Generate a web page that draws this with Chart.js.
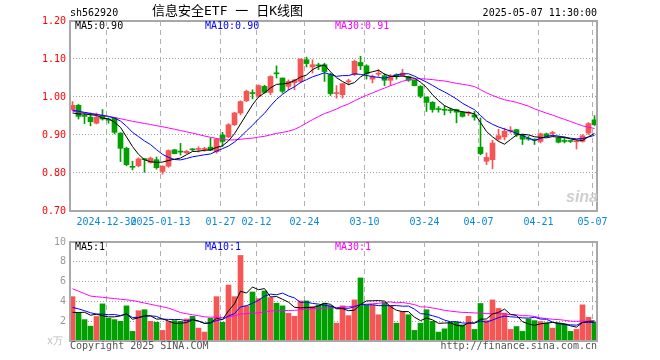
<!DOCTYPE html>
<html>
<head>
<meta charset="utf-8">
<script src="https://cdn.jsdelivr.net/npm/chart.js@4.4.1/dist/chart.umd.min.js"></script>
<style>
  body { margin: 0; background: #fff; width: 660px; height: 360px; overflow: hidden; position: relative;
         font-family: "DejaVu Sans Mono", monospace; font-size: 10px; }
  .t { position: absolute; white-space: nowrap; line-height: 12px; }
  #kline { position: absolute; left: 0; top: 0; }
  #vol { position: absolute; left: 0; top: 232px; }
</style>
</head>
<body>
<canvas id="kline" width="660" height="232"></canvas>
<canvas id="vol" width="660" height="128"></canvas>

<div class="t" style="left:70px;top:7px">sh562920</div>
<div class="t" style="left:152px;top:3px;font-size:13px;line-height:16px;font-family:'DejaVu Sans Mono','Noto Sans CJK SC'">信息安全ETF 一 日K线图</div>
<div class="t" style="right:63px;top:7px">2025-05-07 11:30:00</div>
<div class="t" style="left:75px;top:20px;color:#000">MA5:0.90</div>
<div class="t" style="left:205px;top:20px;color:#0000ff">MA10:0.90</div>
<div class="t" style="left:335px;top:20px;color:#ff00ff">MA30:0.91</div>
<div class="t" style="left:566px;top:188px;font:italic bold 16px 'Liberation Sans';color:#cfcfcf">sina</div>
<div class="t" style="left:75px;top:241px;color:#000">MA5:1</div>
<div class="t" style="left:205px;top:241px;color:#0000ff">MA10:1</div>
<div class="t" style="left:335px;top:241px;color:#ff00ff">MA30:1</div>
<div class="t" style="right:597px;top:335px;color:#bbb">x万</div>
<div class="t" style="left:70px;top:340px;color:#555">Copyright 2025 SINA.COM</div>
<div class="t" style="right:63px;top:340px;color:#555">http://finance.sina.com.cn</div>

<script>
  'use strict';

  // date ticks (trading-day index -> label)
  const tickIdx = [6, 15, 25, 31, 39, 49, 59, 68, 78, 87];
  const tickLabels = ['2024-12-30', '2025-01-13', '01-27', '02-12', '02-24', '03-10', '03-24', '04-07', '04-21', '05-07'];
  const priceTicks = [0.7, 0.8, 0.9, 1.0, 1.1, 1.2];
  const volTicks = [2, 4, 6, 8, 10];

  // daily candles, 2024-12-20 .. 2025-05-07
  const opens = [0.967, 0.978, 0.951, 0.947, 0.931, 0.951, 0.942, 0.945, 0.905, 0.865,
    0.817, 0.819, 0.837, 0.828, 0.835, 0.804, 0.818, 0.861, 0.857, 0.853,
    0.862, 0.862, 0.862, 0.868, 0.856, 0.900, 0.895, 0.927, 0.958, 0.990,
    1.011, 1.002, 1.028, 1.012, 1.062, 1.050, 1.028, 1.038, 1.041, 1.098,
    1.079, 1.084, 1.085, 1.059, 1.009, 1.006, 1.040, 1.059, 1.091, 1.082,
    1.047, 1.060, 1.056, 1.044, 1.057, 1.056, 1.054, 1.044, 1.028, 1.000,
    0.986, 0.968, 0.966, 0.965, 0.967, 0.960, 0.957, 0.953, 0.868, 0.831,
    0.835, 0.889, 0.895, 0.910, 0.914, 0.901, 0.890, 0.889, 0.883, 0.903,
    0.904, 0.892, 0.884, 0.884, 0.882, 0.883, 0.905, 0.940];
  const highs = [0.988, 0.981, 0.958, 0.958, 0.958, 0.967, 0.945, 0.946, 0.906, 0.868,
    0.831, 0.840, 0.838, 0.842, 0.842, 0.819, 0.861, 0.862, 0.878, 0.860,
    0.864, 0.869, 0.868, 0.892, 0.891, 0.907, 0.930, 0.960, 0.990, 1.018,
    1.019, 1.032, 1.031, 1.056, 1.082, 1.050, 1.045, 1.047, 1.100, 1.105,
    1.098, 1.089, 1.089, 1.063, 1.030, 1.036, 1.047, 1.097, 1.107, 1.085,
    1.058, 1.072, 1.061, 1.059, 1.061, 1.073, 1.055, 1.045, 1.030, 1.000,
    0.988, 0.975, 0.977, 0.971, 0.968, 0.962, 0.962, 0.962, 0.945, 0.853,
    0.886, 0.915, 0.918, 0.922, 0.915, 0.902, 0.896, 0.890, 0.905, 0.905,
    0.910, 0.896, 0.895, 0.886, 0.888, 0.901, 0.933, 0.951];
  const lows = [0.965, 0.942, 0.930, 0.924, 0.929, 0.939, 0.931, 0.903, 0.830, 0.819,
    0.808, 0.816, 0.802, 0.826, 0.810, 0.797, 0.815, 0.850, 0.847, 0.851,
    0.858, 0.855, 0.857, 0.859, 0.852, 0.870, 0.893, 0.925, 0.953, 0.988,
    0.995, 1.000, 1.010, 1.006, 1.050, 1.010, 1.019, 1.019, 1.037, 1.079,
    1.063, 1.072, 1.041, 1.004, 0.997, 0.997, 1.032, 1.056, 1.072, 1.047,
    1.037, 1.054, 1.030, 1.030, 1.047, 1.054, 1.041, 1.029, 0.998, 0.962,
    0.960, 0.960, 0.953, 0.958, 0.932, 0.947, 0.951, 0.939, 0.848, 0.822,
    0.811, 0.886, 0.887, 0.905, 0.896, 0.875, 0.886, 0.875, 0.879, 0.895,
    0.896, 0.879, 0.879, 0.880, 0.863, 0.881, 0.901, 0.925];
  const closes = [0.978, 0.949, 0.949, 0.935, 0.947, 0.942, 0.939, 0.907, 0.865, 0.822,
    0.815, 0.837, 0.835, 0.839, 0.814, 0.818, 0.859, 0.851, 0.855, 0.857,
    0.861, 0.863, 0.863, 0.860, 0.889, 0.883, 0.927, 0.958, 0.988, 1.015,
    1.009, 1.030, 1.012, 1.054, 1.061, 1.015, 1.041, 1.045, 1.100, 1.088,
    1.085, 1.082, 1.067, 1.009, 1.011, 1.035, 1.041, 1.094, 1.082, 1.061,
    1.054, 1.061, 1.044, 1.053, 1.056, 1.063, 1.044, 1.030, 1.002, 0.986,
    0.967, 0.967, 0.965, 0.964, 0.960, 0.949, 0.958, 0.947, 0.851, 0.841,
    0.879, 0.898, 0.910, 0.912, 0.901, 0.889, 0.889, 0.886, 0.903, 0.896,
    0.905, 0.881, 0.883, 0.883, 0.883, 0.898, 0.930, 0.927];
  const volumes = [4.48, 2.89, 2.16, 1.50, 2.48, 3.75, 2.30, 2.16, 1.99, 3.55,
    0.97, 3.06, 3.16, 1.99, 1.89, 1.07, 1.96, 2.06, 1.99, 2.23,
    2.49, 1.30, 0.90, 2.30, 4.48, 1.89, 5.65, 4.48, 8.64, 3.55,
    4.95, 4.28, 5.05, 4.38, 3.82, 3.55, 2.79, 2.49, 4.05, 4.05,
    3.49, 3.62, 3.82, 3.55, 1.80, 3.55, 2.56, 4.15, 6.37, 3.62,
    3.62, 2.65, 3.89, 3.55, 1.80, 2.96, 2.65, 1.07, 1.80, 3.16,
    1.99, 0.90, 1.23, 1.89, 1.89, 1.63, 2.49, 1.17, 3.79, 2.06,
    4.15, 3.29, 2.82, 1.17, 1.46, 0.97, 2.23, 2.06, 1.96, 1.83,
    1.30, 1.83, 1.73, 0.97, 1.17, 3.65, 2.39, 1.89];

  // sessions before the window, only used to seed the moving averages
  const priorCloses = [1.005, 1.012, 0.998, 1.008, 1.002, 1.030, 1.000, 0.960, 0.925, 0.915,
    0.920, 0.925, 0.920, 0.905, 0.905, 0.955, 0.950, 0.958, 0.960, 0.962,
    0.978, 0.977, 0.963, 0.975, 0.970, 0.962, 0.950, 0.945, 0.955];
  const priorVolumes = [10.3, 9.6, 8.9, 4.4, 5.6, 4.2, 4.1, 3.9, 5.5, 2.9,
    6.9, 7.0, 5.8, 5.7, 4.9, 5.8, 8.8, 8.7, 6.0, 5.5,
    4.3, 4.0, 3.6, 3.8, 3.7, 3.0, 2.0, 3.0, 2.0];

  const RED = '#f55555';
  const GREEN = '#00a000';
  const MA_COLORS = { 5: '#000000', 10: '#0000ff', 30: '#ff00ff' };
  const FONT = { family: 'DejaVu Sans Mono', size: 10 };

  // x runs on trading-day index, 6px per session
  const X_MIN = -2.5 / 6;
  const X_MAX = X_MIN + 527 / 6;

  const colors = closes.map((c, i) => (c >= opens[i] ? RED : GREEN));

  function movingAvg(prior, series, n) {
    const all = prior.concat(series);
    return series.map((_, i) => {
      const end = prior.length + i;
      let sum = 0;
      for (let k = end - n + 1; k <= end; k++) sum += all[k];
      return { x: i, y: sum / n };
    });
  }

  function maLines(prior, series) {
    return [5, 10, 30].map(n => ({
      type: 'line',
      data: movingAvg(prior, series, n),
      borderColor: MA_COLORS[n],
      borderWidth: 1,
      pointRadius: 0,
      tension: 0,
      order: 0
    }));
  }

  const framePlugin = {
    id: 'frame',
    afterDraw(chart) {
      const { ctx, chartArea: a } = chart;
      ctx.save();
      ctx.strokeStyle = '#a8a8a8';
      ctx.lineWidth = 2;
      ctx.strokeRect(a.left, a.top, a.right - a.left, a.bottom - a.top);
      ctx.restore();
    }
  };

  function xScale(showLabels) {
    return {
      type: 'linear',
      min: X_MIN,
      max: X_MAX,
      offset: false,
      afterBuildTicks: s => { s.ticks = tickIdx.map(i => ({ value: i - 0.33 })); },
      afterFit: s => { s.height = showLabels ? 21 : 0; },
      grid: { color: '#b0b0b0', drawTicks: false, offset: false },
      border: { display: false, dash: [5, 4] },
      ticks: {
        display: showLabels,
        autoSkip: false,
        maxRotation: 0,
        padding: 5,
        color: '#0a88d8',
        font: FONT,
        callback: (v, k) => tickLabels[k]
      }
    };
  }

  // price chart
  new Chart(document.getElementById('kline'), {
    type: 'bar',
    data: {
      datasets: [
        ...maLines(priorCloses, closes),
        {
          data: opens.map((o, i) => ({ x: i, y: [Math.min(o, closes[i]), Math.max(o, closes[i])] })),
          backgroundColor: colors,
          barThickness: 5,
          minBarLength: 1,
          grouped: false,
          order: 1
        },
        {
          data: lows.map((l, i) => ({ x: i, y: [l, highs[i]] })),
          backgroundColor: colors,
          barThickness: 1,
          grouped: false,
          order: 2
        }
      ]
    },
    options: {
      responsive: false,
      animation: false,
      layout: { padding: { left: 0, top: 21, right: 63, bottom: 0 } },
      plugins: { legend: { display: false }, tooltip: { enabled: false } },
      scales: {
        x: xScale(true),
        y: {
          min: 0.7,
          max: 1.2,
          afterFit: s => { s.width = 70; },
          afterBuildTicks: s => { s.ticks = priceTicks.map(v => ({ value: v })); },
          grid: { color: '#a0a0a0', drawTicks: false },
          border: { display: false, dash: [1, 2] },
          ticks: { padding: 4, color: '#ff0000', font: FONT, callback: v => v.toFixed(2) }
        }
      }
    },
    plugins: [framePlugin]
  });

  // volume chart
  new Chart(document.getElementById('vol'), {
    type: 'bar',
    data: {
      datasets: [
        ...maLines(priorVolumes, volumes),
        {
          data: volumes.map((v, i) => ({ x: i, y: v })),
          backgroundColor: colors,
          barThickness: 5,
          grouped: false,
          order: 1
        }
      ]
    },
    options: {
      responsive: false,
      animation: false,
      layout: { padding: { left: 0, top: 8, right: 63, bottom: 19 } },
      plugins: { legend: { display: false }, tooltip: { enabled: false } },
      scales: {
        x: xScale(false),
        y: {
          min: 0,
          max: 10,
          afterFit: s => { s.width = 70; },
          afterBuildTicks: s => { s.ticks = volTicks.map(v => ({ value: v })); },
          grid: { color: '#a0a0a0', drawTicks: false },
          border: { display: false, dash: [1, 2] },
          ticks: { padding: 4, color: '#999999', font: FONT, callback: v => String(v) }
        }
      }
    },
    plugins: [framePlugin]
  });
</script>
</body>
</html>
